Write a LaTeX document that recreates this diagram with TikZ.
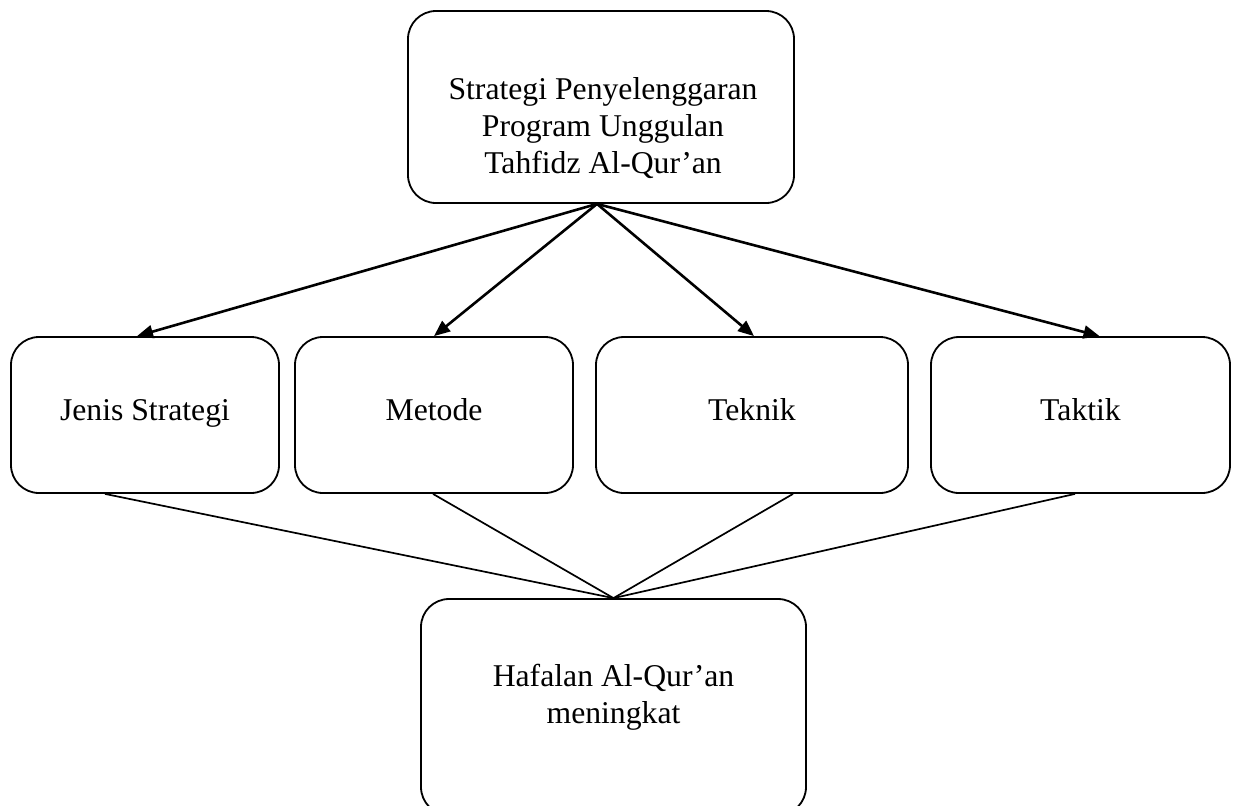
\documentclass[tikz,border=0pt]{standalone}
\usepackage{fontspec}
\setmainfont{Liberation Serif}
\usetikzlibrary{arrows.meta,calc}
\begin{document}
\begin{tikzpicture}[x=0.5pt,y=-0.5pt,
  box/.style={draw, rounded corners=14pt, line width=0.9pt, inner sep=0pt},
  lbl/.style={font=\fontsize{15.85}{18.5}\selectfont, align=center, inner sep=0pt},
  mid/.style={box, minimum height=78pt, text height=11pt, text depth=6pt, font=\fontsize{15.85}{18.5}\selectfont},
  arr/.style={-{Triangle[length=8pt,width=6.5pt]}, line width=1.3pt},
  con/.style={line width=0.85pt}]
\useasboundingbox (0,0) rectangle (1237,805);
\clip (0,0) rectangle (1237,805);
% top
\node[box, minimum width=193pt, minimum height=96pt] (top) at (601,107) {};
\node[lbl] (toptext) at (603,128) {Strategi Penyelenggaran\\Program Unggulan\\Tahfidz Al-Qur’an};
% middle
\node[mid, minimum width=134pt] (b1) at (145,415) {Jenis Strategi};
\node[mid, minimum width=139pt] (b2) at (434,415) {Metode};
\node[mid, minimum width=156pt] (b3) at (752,415) {Teknik};
\node[mid, minimum width=149.5pt] (b4) at (1080.5,415) {Taktik};
% bottom
\node[box, minimum width=192.5pt, minimum height=108pt] (bot) at (613.5,707) {};
\node[lbl] (bottext) at (613.5,697) {Hafalan Al-Qur’an\\meningkat};
% arrows
\coordinate (apex) at ($(top.south)+(-4,0)$);
\draw[arr] (apex) -- ($(b1.north)+(-8,0)$);
\draw[arr] (apex) -- (b2.north);
\draw[arr] (apex) -- ($(b3.north)+(2,0)$);
\draw[arr] (apex) -- ($(b4.north)+(19,0)$);
% lines to bottom
\draw[con] ($(b1.south)+(-40,0)$) -- (bot.north);
\draw[con] ($(b2.south)+(-1,0)$) -- (bot.north);
\draw[con] ($(b3.south)+(41,0)$) -- (bot.north);
\draw[con] ($(b4.south)+(-5.5,0)$) -- (bot.north);
\end{tikzpicture}
\end{document}
